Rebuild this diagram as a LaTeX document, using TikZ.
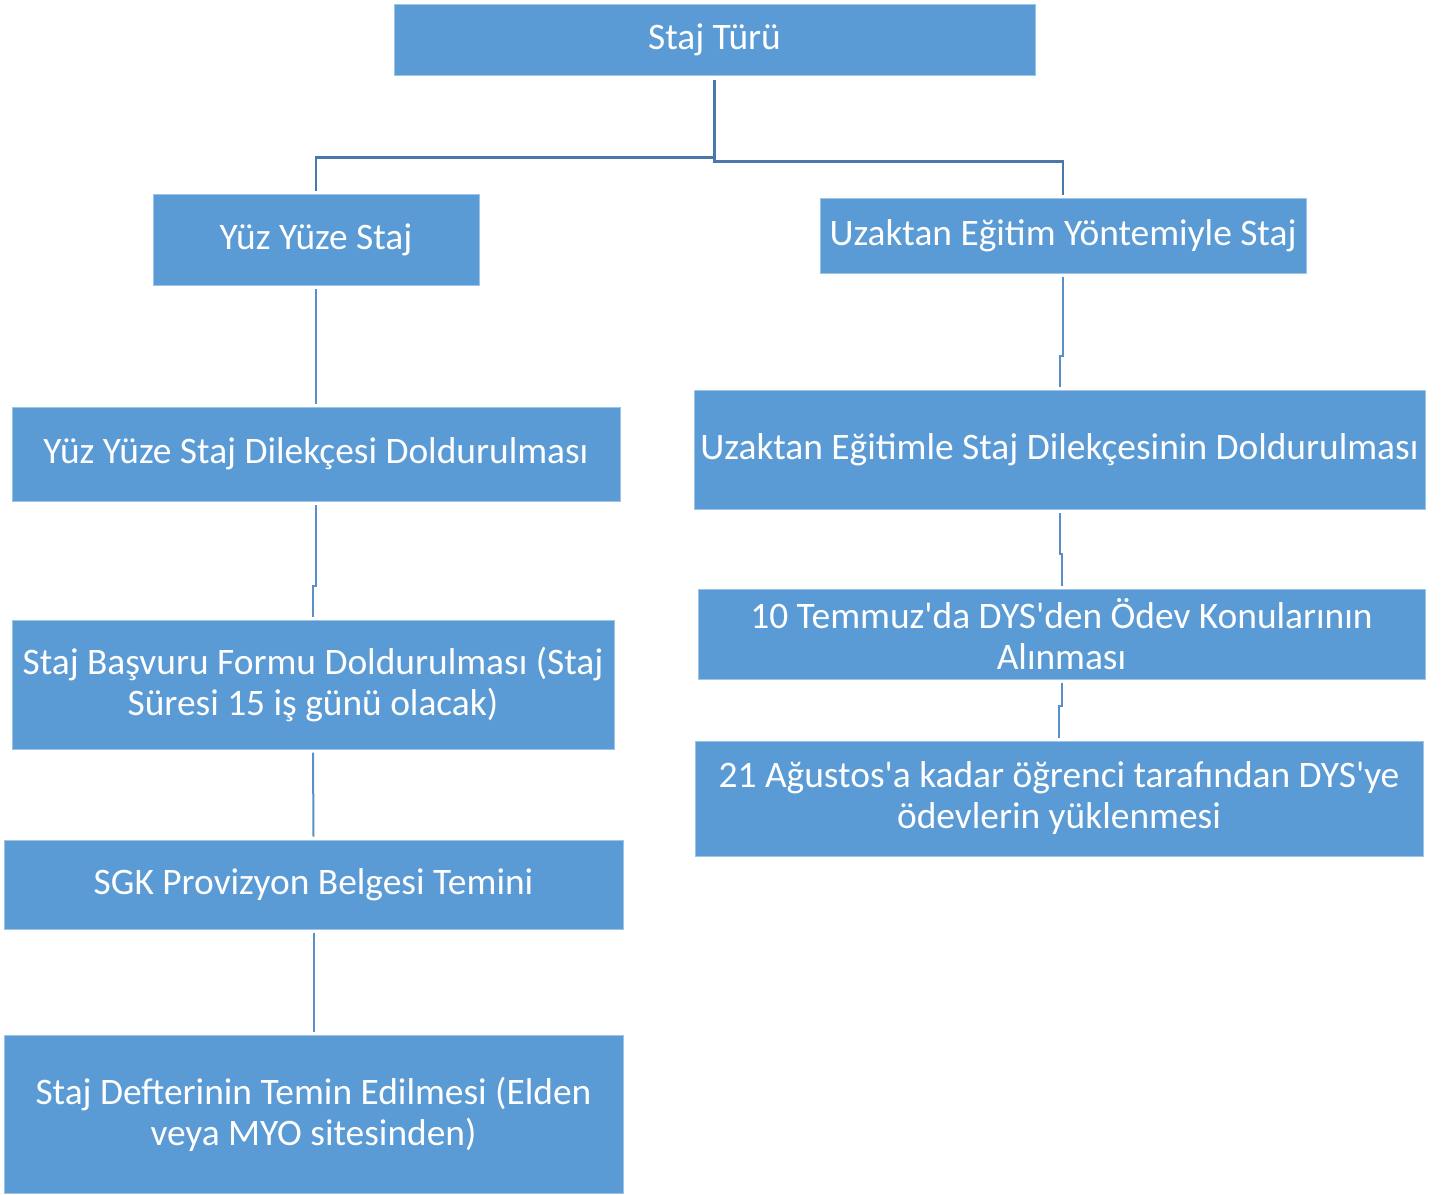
\documentclass[tikz,border=0pt]{standalone}
\usepackage{fontspec}
\setmainfont{Carlito}[Ligatures=TeXOff]
\begin{document}
\begin{tikzpicture}[x=1pt,y=-1pt,
  box/.style={rectangle, fill=boxfill, draw=boxedge, line width=1pt, text=white, align=center, inner sep=0pt, font=\fontsize{37.4}{41}\selectfont},
  conn/.style={draw=connline, line width=2pt},
  topconn/.style={draw=topline, line width=2.5pt}]
\definecolor{boxfill}{HTML}{5B9BD5}
\definecolor{boxedge}{HTML}{9DC3E6}
\definecolor{connline}{HTML}{5B8FC9}
\definecolor{topline}{HTML}{4A78AB}
\useasboundingbox (0,0) rectangle (1445,1194);
\node[box, minimum width=641pt, minimum height=71pt] (st) at (714.5,39.5) {Staj Türü};
\node[box, minimum width=326pt, minimum height=91pt] (yy) at (316,239.5) {Yüz Yüze Staj};
\node[box, minimum width=486pt, minimum height=75pt] (uz) at (1063,235.5) {Uzaktan Eğitim Yöntemiyle Staj};
\node[box, minimum width=608pt, minimum height=94pt] (yyd) at (316,454) {Yüz Yüze Staj Dilekçesi Doldurulması};
\node[box, minimum width=731pt, minimum height=119pt] (uzd) at (1059.5,449.5) {Uzaktan Eğitimle Staj Dilekçesinin Doldurulması};
\node[box, minimum width=602pt, minimum height=129pt] (bas) at (313,684.5) {Staj Başvuru Formu Doldurulması (Staj\\Süresi 15 iş günü olacak)};
\node[box, minimum width=727pt, minimum height=90pt] (tem) at (1061.5,634) {10 Temmuz'da DYS'den Ödev Konularının\\Alınması};
\node[box, minimum width=728pt, minimum height=115pt] (agu) at (1059,798.5) {21 Ağustos'a kadar öğrenci tarafından DYS'ye\\ödevlerin yüklenmesi};
\node[box, minimum width=619pt, minimum height=89pt] (sgk) at (313.5,884.5) {SGK Provizyon Belgesi Temini};
\node[box, minimum width=619pt, minimum height=158pt] (def) at (313.5,1114) {Staj Defterinin Temin Edilmesi (Elden\\veya MYO sitesinden)};
% top connectors
\draw[topconn] ([yshift=-4pt]st.south) |- ([yshift=36pt]yy.north) -- ([yshift=3pt]yy.north);
\draw[topconn] ([yshift=-4pt]st.south) |- ([yshift=36pt]uz.north) -- ([yshift=3pt]uz.north);
% right column
\draw[conn] ([yshift=-3pt]uz.south) -- ++(0,79) -| ([yshift=3pt]uzd.north);
\draw[conn] ([yshift=-3pt]uzd.south) -- ++(0,41) -| ([yshift=3pt]tem.north);
\draw[conn] ([yshift=-3pt]tem.south) -- ++(0,23) -| ([yshift=3pt]agu.north);
% left column
\draw[conn] ([yshift=-3pt]yy.south) -- ([yshift=3pt]yyd.north);
\draw[conn] ([yshift=-3pt]yyd.south) -- ++(0,81) -| ([yshift=3pt]bas.north);
\draw[conn] ([yshift=-3pt]bas.south) -- ([yshift=3pt]sgk.north);
\draw[conn] ([yshift=-3pt]sgk.south) -- ([yshift=3pt]def.north);
\end{tikzpicture}
\end{document}
